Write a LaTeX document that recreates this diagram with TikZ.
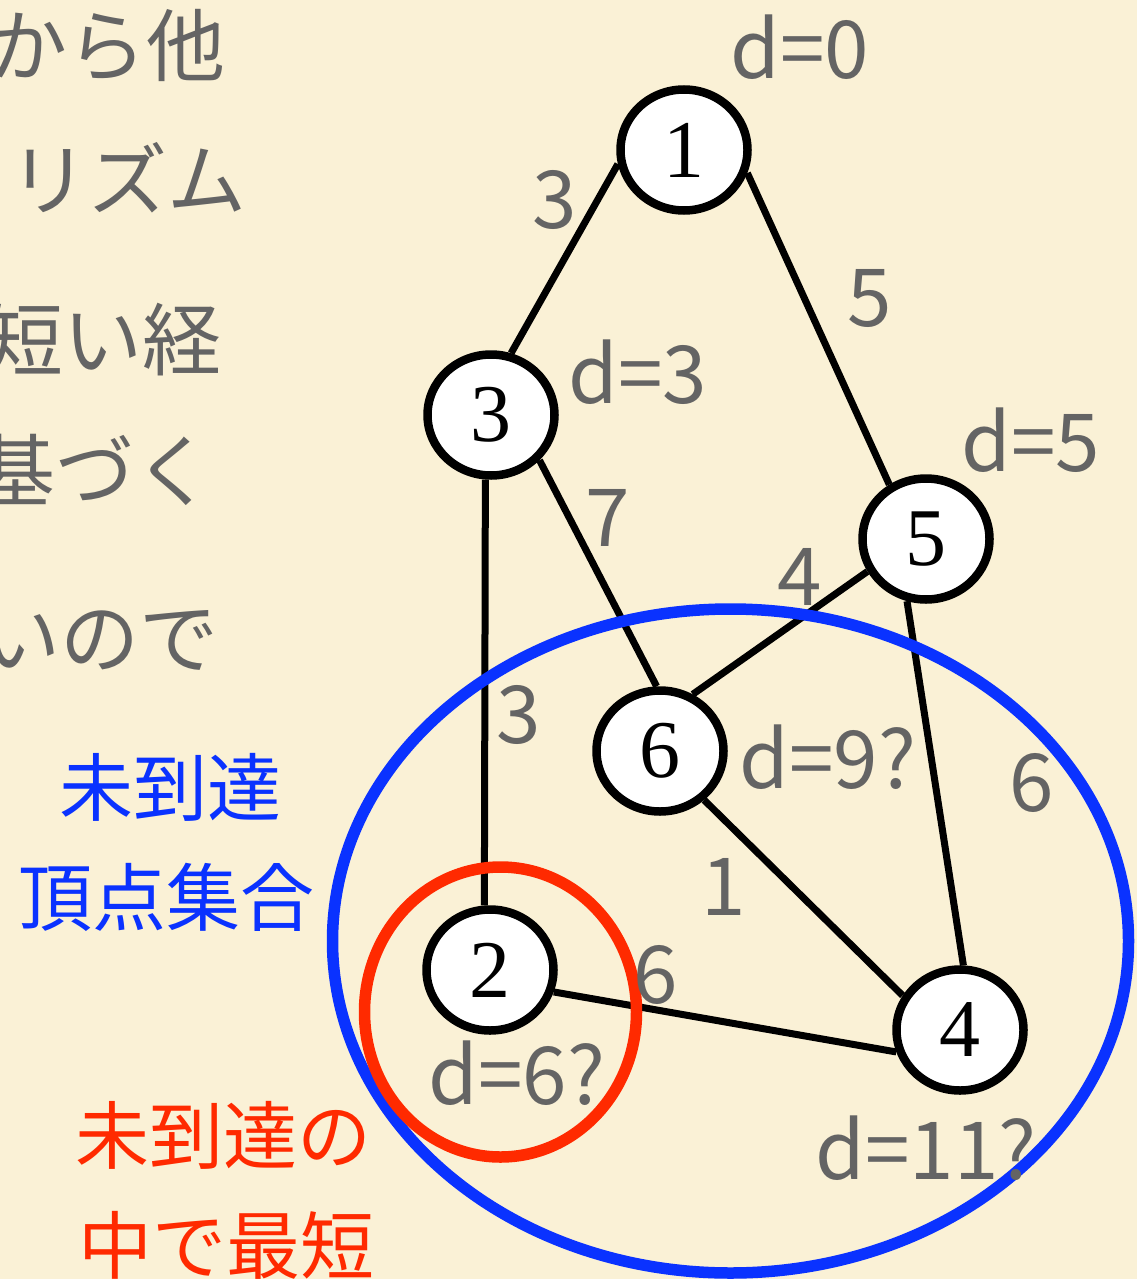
\documentclass[tikz,border=0pt]{standalone}
\usepackage{fontspec}
\setmainfont{Liberation Serif}
\newfontfamily\jpfont{Noto Sans CJK JP}
\usetikzlibrary{shapes.geometric}
\definecolor{bgcream}{RGB}{250,241,214}
\definecolor{txtgray}{RGB}{100,100,100}
\definecolor{setblue}{RGB}{10,50,255}
\definecolor{minred}{RGB}{255,42,0}
\tikzset{
  vertex/.style={ellipse, draw=black, line width=8.5pt, fill=white, inner sep=0pt,
    minimum width=127pt, minimum height=121pt, font=\fontsize{82}{82}\selectfont},
  edge/.style={draw=black, line width=7pt},
  lbl/.style={text=txtgray, inner sep=0pt, font=\jpfont\fontsize{80}{80}\selectfont},
  bodytxt/.style={text=txtgray, inner sep=0pt, anchor=east, font=\jpfont\fontsize{79}{79}\selectfont},
  bluetxt/.style={text=setblue, inner sep=0pt, font=\jpfont\fontsize{74}{74}\selectfont},
  redtxt/.style={text=minred, inner sep=0pt, font=\jpfont\fontsize{74}{74}\selectfont}
}
\begin{document}
\begin{tikzpicture}[x=1pt,y=-1pt]
\fill[bgcream] (0,0) rectangle (1137,1279);
\useasboundingbox (0,0) rectangle (1137,1279);
\clip (0,0) rectangle (1137,1279);

% left body text (cut off at the left edge, as in the reference)
\node[bodytxt] (t1) at (226,45) {から他};
\node[bodytxt] (t2) at (247,178) {リズム};
\node[bodytxt] (t3) at (222,340) {短い経};
\node[bodytxt] (t4) at (214,470) {基づく};
\node[bodytxt] (t5) at (219,640) {いので};

% vertices
\node[vertex] (n1) at (684,150) {1};
\node[vertex] (n3) at (491,415) {3};
\node[vertex] (n5) at (926,539) {5};
\node[vertex] (n6) at (660,751) {6};
\node[vertex] (n2) at (490,970) {2};
\node[vertex] (n4) at (960,1030) {4};

% edges
\draw[edge] (n1.192) -- (n3.72);
\draw[edge] (n1.340) -- (n5.124);
\draw[edge] (n3.265) -- (n2.95);
\draw[edge] (n3.317) -- (n6.93);
\draw[edge] (n5.209) -- (n6.60);
\draw[edge] (n5.253) -- (n4.87);
\draw[edge] (n6.312) -- (n4.149);
\draw[edge] (n2.341) -- (n4.199);

% sets
\draw[setblue, line width=11.5pt] (730.5,941) ellipse [x radius=398, y radius=332];
\draw[minred, line width=11.5pt] (500.5,1012) ellipse [x radius=136, y radius=145];

% edge weights
\node[lbl] (w13) at (555,200) {3};
\node[lbl] (w15) at (870,298) {5};
\node[lbl] (w36) at (608,518) {7};
\node[lbl] (w56) at (800,577) {4};
\node[lbl] (w32) at (519,715) {3};
\node[lbl] (w54) at (1032,783) {6};
\node[lbl] (w64) at (724,887) {1};
\node[lbl] (w24) at (656,975) {6};

% distances
\node[lbl] (d1) at (800,47) {d=0};
\node[lbl] (d3) at (638,372) {d=3};
\node[lbl] (d5) at (1031,440) {d=5};
\node[lbl] (d6) at (828,757) {d=9?};
\node[lbl] (d2) at (517,1073) {d=6?};
\node[lbl] (d4) at (926,1148) {d=11?};

% annotations
\node[bluetxt] (b1) at (170,787) {未到達};
\node[bluetxt] (b2) at (166,897) {頂点集合};
\node[redtxt] (r1) at (223,1135) {未到達の};
\node[redtxt] (r2) at (226,1245) {中で最短};
\end{tikzpicture}
\end{document}
